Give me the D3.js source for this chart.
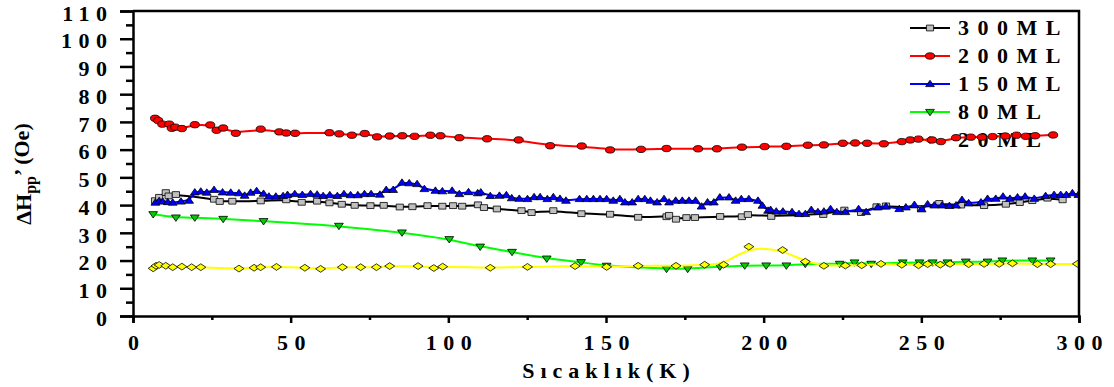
<!DOCTYPE html>
<html>
<head>
<meta charset="utf-8">
<script src="https://cdn.jsdelivr.net/npm/d3@7"></script>
<style>
  html, body { margin: 0; padding: 0; background: #fff; }
  svg { display: block; }
  svg text { font-family: "Liberation Serif", "Times New Roman", "DejaVu Serif", serif; font-weight: bold; fill: #000; }
</style>
</head>
<body>
<svg id="chart" width="1114" height="387"></svg>
<script>
// temperature (K) / linewidth (Oe) pairs
var ml300K = [7.0, 8.3, 10.4, 11.3, 13.6, 25.7, 27.5, 31.5, 40.5, 48.6, 53.5, 58.4, 62.3, 66.2, 70.3, 75.3, 79.5, 84.6, 88.6, 93.4, 98.1, 101.5, 104.4, 109.4, 111.3, 115.4, 123.2, 126.4, 133.3, 142.2, 151.3, 160.2, 169.2, 170.0, 172.2, 175.5, 178.2, 186.2, 193.1, 195.0, 202.4, 218.9, 225.6, 230.9, 235.8, 238.8, 249.9, 255.7, 262.6, 269.9, 276.8, 281.2, 285.2, 290.0, 294.8]
var ml300V = [41.6, 42.8, 44.5, 43.3, 43.8, 42.1, 41.3, 41.4, 41.5, 41.9, 41.0, 41.4, 40.8, 40.3, 39.9, 39.8, 39.9, 39.3, 39.4, 39.8, 39.6, 39.8, 39.6, 40.1, 39.1, 38.6, 38.0, 37.3, 38.0, 36.9, 36.7, 35.6, 35.8, 36.3, 34.9, 35.5, 35.5, 35.9, 35.8, 36.6, 35.9, 36.6, 38.2, 37.3, 39.4, 39.7, 38.8, 40.6, 40.0, 39.8, 40.3, 40.9, 41.6, 42.5, 41.9]

var ml200K = [7.0, 8.0, 9.3, 11.5, 12.3, 13.4, 15.5, 19.6, 24.5, 26.5, 28.6, 32.6, 40.5, 46.4, 48.6, 51.4, 62.3, 65.4, 69.4, 73.5, 77.4, 81.4, 85.4, 89.3, 94.3, 97.5, 103.5, 112.3, 122.3, 132.3, 142.3, 151.3, 161.1, 169.2, 179.2, 185.2, 193.1, 200.3, 207.2, 214.0, 219.1, 225.1, 229.0, 232.8, 238.1, 243.8, 246.5, 249.1, 253.4, 256.2, 261.0, 265.7, 269.2, 272.6, 276.6, 280.2, 283.1, 286.1, 291.8]
var ml200V = [71.3, 70.5, 69.2, 69.2, 67.7, 68.1, 67.6, 69.0, 68.9, 67.0, 67.8, 65.9, 67.4, 66.4, 66.0, 65.9, 66.1, 65.7, 65.2, 65.8, 64.6, 64.9, 65.0, 64.8, 65.2, 65.0, 64.3, 63.9, 63.5, 61.4, 61.3, 59.9, 60.1, 60.4, 60.3, 60.3, 60.9, 61.1, 61.2, 61.6, 61.7, 62.3, 62.4, 62.3, 62.1, 62.9, 63.5, 63.8, 63.5, 62.9, 64.3, 64.5, 64.5, 64.7, 64.9, 65.2, 64.8, 65.0, 65.3]

var ml150K = [7.1, 8.3, 9.4, 11.0, 12.6, 15.2, 17.8, 19.6, 21.5, 23.4, 25.7, 28.4, 31.0, 33.6, 35.4, 37.3, 39.2, 41.4, 43.1, 45.3, 47.6, 49.0, 51.3, 53.7, 56.3, 58.4, 60.3, 62.4, 64.8, 66.9, 69.0, 71.3, 73.4, 75.5, 78.3, 80.3, 82.5, 85.3, 87.6, 90.1, 92.4, 95.9, 98.1, 101.2, 103.5, 106.4, 109.3, 110.3, 113.3, 116.2, 118.4, 120.1, 122.5, 125.1, 127.2, 129.1, 131.4, 133.3, 135.4, 137.3, 141.6, 143.9, 146.0, 148.1, 150.2, 152.3, 154.4, 156.0, 158.3, 160.2, 162.3, 164.1, 166.2, 168.4, 170.0, 172.1, 174.2, 176.3, 178.4, 180.3, 182.2, 184.2, 186.1, 189.0, 191.1, 192.9, 195.3, 198.2, 199.6, 201.4, 202.2, 204.0, 206.1, 209.0, 211.2, 213.2, 215.1, 217.2, 219.1, 221.2, 223.2, 225.9, 230.1, 232.5, 236.2, 238.8, 243.0, 245.1, 247.8, 250.1, 252.0, 254.1, 256.6, 258.9, 261.0, 262.9, 265.0, 268.9, 271.0, 273.6, 275.9, 278.1, 280.5, 282.9, 285.8, 289.4, 292.1, 294.2, 296.0, 297.9, 299.8]
var ml150V = [40.9, 41.5, 41.3, 41.1, 40.9, 41.3, 41.6, 44.6, 44.9, 44.5, 45.5, 44.6, 44.5, 44.3, 43.4, 44.5, 45.1, 44.1, 43.1, 43.1, 43.3, 43.7, 44.0, 43.7, 44.0, 43.8, 43.3, 43.6, 43.3, 44.0, 43.6, 43.6, 44.0, 44.0, 43.8, 45.5, 45.5, 48.1, 47.9, 47.6, 45.8, 45.2, 45.0, 45.2, 44.0, 44.7, 44.3, 44.6, 43.3, 43.4, 43.6, 42.5, 42.3, 42.2, 42.9, 42.9, 42.2, 42.9, 42.3, 41.6, 42.2, 42.2, 42.2, 42.2, 42.2, 41.6, 42.2, 41.0, 41.0, 42.2, 42.2, 41.6, 41.0, 42.2, 41.0, 41.6, 41.6, 41.6, 41.6, 39.5, 41.0, 41.0, 42.8, 42.8, 41.6, 42.2, 42.2, 41.6, 39.8, 38.0, 38.3, 37.7, 37.7, 37.5, 36.8, 36.8, 38.3, 37.5, 37.7, 38.6, 37.5, 37.5, 38.6, 37.5, 39.2, 39.5, 38.6, 39.2, 40.1, 38.5, 40.3, 39.9, 39.9, 39.7, 39.9, 41.9, 40.7, 41.0, 42.3, 42.3, 43.1, 42.3, 42.8, 43.1, 42.3, 43.3, 43.7, 43.7, 43.7, 44.3, 43.7]

var ml80K = [6.4, 13.6, 19.6, 28.6, 41.4, 65.3, 85.3, 100.3, 110.1, 120.2, 131.2, 142.1, 150.2, 169.2, 175.9, 186.1, 194.0, 200.8, 207.2, 213.2, 224.1, 228.8, 234.1, 244.1, 249.4, 253.6, 258.3, 264.1, 271.0, 275.7, 285.2, 291.0]
var ml80V = [36.7, 35.5, 35.5, 35.0, 34.2, 32.5, 30.1, 27.7, 25.0, 23.1, 20.7, 19.4, 18.1, 17.0, 17.0, 17.8, 18.2, 18.2, 18.2, 18.8, 18.8, 19.3, 18.8, 19.3, 19.3, 19.3, 19.3, 19.6, 19.6, 20.0, 20.0, 20.0]

var ml20K = [6.4, 7.3, 8.3, 10.4, 12.6, 15.5, 18.6, 21.5, 33.6, 38.4, 40.5, 45.5, 54.5, 59.5, 66.4, 72.2, 77.2, 81.4, 90.4, 95.4, 98.2, 113.3, 125.1, 140.2, 150.2, 160.2, 172.2, 181.3, 187.3, 195.3, 206.0, 213.2, 219.1, 225.9, 231.1, 237.2, 243.8, 249.1, 252.0, 256.0, 259.1, 265.0, 269.9, 274.7, 278.9, 286.8, 291.0, 299.5]
var ml20V = [17.2, 18.1, 18.4, 18.1, 17.6, 17.8, 17.6, 17.6, 17.1, 17.4, 17.6, 17.7, 17.4, 17.0, 17.6, 17.6, 17.6, 18.0, 18.0, 17.3, 17.8, 17.4, 17.7, 18.0, 17.7, 18.1, 18.1, 18.5, 18.5, 25.0, 23.8, 19.6, 18.1, 18.2, 18.3, 18.8, 18.5, 18.3, 18.7, 18.5, 18.8, 18.7, 18.8, 18.8, 19.0, 18.7, 18.7, 18.8]

var seriesNames = ['300ML', '200ML', '150ML', '80ML', '20ML']
var xTicks = [0, 50, 100, 150, 200, 250, 300]
var yTicks = [0, 10, 20, 30, 40, 50, 60, 70, 80, 90, 100, 110]

var svg = d3.select('#chart')
var x = d3.scaleLinear().domain([0, 300]).range([133, 1079])
var y = d3.scaleLinear().domain([0, 110]).range([316, 11])

// marker paths, centred on 0,0 (the original is a little stretched sideways)
var markers = {
  square: 'M-3.6,-2.9H3.6V2.9H-3.6Z',
  circle: 'M-4.6,0A4.6,3.2 0 1,0 4.6,0A4.6,3.2 0 1,0 -4.6,0Z',
  up: 'M0,-3.8L4.4,2.6H-4.4Z',
  down: 'M0,3.8L4.4,-2.6H-4.4Z',
  diamond: 'M0,-3.4L5,0L0,3.4L-5,0Z'
}

var series = [
  {name: seriesNames[0], xs: ml300K, ys: ml300V, line: '#000000', fill: '#c0c0c0', mark: 'square'},
  {name: seriesNames[1], xs: ml200K, ys: ml200V, line: '#ff0000', fill: '#ff0000', mark: 'circle'},
  {name: seriesNames[2], xs: ml150K, ys: ml150V, line: '#0000ff', fill: '#0000ff', mark: 'up'},
  {name: seriesNames[3], xs: ml80K, ys: ml80V, line: '#00ff00', fill: '#00cc00', mark: 'down'},
  {name: seriesNames[4], xs: ml20K, ys: ml20V, line: '#ffff00', fill: '#ffff00', mark: 'diamond'}
]

svg.append('clipPath').attr('id', 'plot-clip')
  .append('rect').attr('x', x(0)).attr('y', y(110)).attr('width', x(300) - x(0)).attr('height', y(0) - y(110))

// legend goes under the data, the red curve runs over the last entry
var legend = svg.append('g').attr('class', 'legend')
series.forEach(function(s, i) {
  var ly = 28 + i*28
  var g = legend.append('g').attr('transform', 'translate(0,' + ly + ')')
  g.append('line').attr('x1', 910).attr('x2', 950).attr('y1', 0).attr('y2', 0)
    .attr('stroke', s.line).attr('stroke-width', 2)
  g.append('path').attr('d', markers[s.mark]).attr('transform', 'translate(930,0)')
    .attr('fill', s.fill).attr('stroke', '#000').attr('stroke-width', 0.8)
  g.append('text').attr('x', 958).attr('y', 7).attr('font-size', 22)
    .attr('letter-spacing', 8.5).text(s.name)
})

var line = d3.line().curve(d3.curveBasis)
  .x(function(d) { return x(d[0]) })
  .y(function(d) { return y(d[1]) })

var plot = svg.append('g').attr('clip-path', 'url(#plot-clip)')
series.forEach(function(s) {
  var pts = s.xs.map(function(k, i) { return [k, s.ys[i]] })
  var g = plot.append('g')
  g.append('path').attr('d', line(pts)).attr('fill', 'none')
    .attr('stroke', s.line).attr('stroke-width', 2)
  g.selectAll('path.mark').data(pts).enter()
    .append('path').attr('class', 'mark')
    .attr('d', markers[s.mark])
    .attr('transform', function(d) { return 'translate(' + x(d[0]) + ',' + y(d[1]) + ')' })
    .attr('fill', s.fill).attr('stroke', '#000').attr('stroke-width', 0.8)
})

// frame: top and right edges
svg.append('path')
  .attr('d', ['M', x(0), y(110), 'H', x(300), 'V', y(0)].join(' '))
  .attr('fill', 'none').attr('stroke', '#000').attr('stroke-width', 2.5)

// y axis
var yMinor = svg.append('g').attr('transform', 'translate(' + x(0) + ',0)')
  .call(d3.axisLeft(y).tickValues(d3.range(5, 110, 10)).tickSize(7).tickFormat(''))
var yAxis = svg.append('g').attr('transform', 'translate(' + x(0) + ',0)')
  .call(d3.axisLeft(y).tickValues(yTicks).tickSize(13))
yAxis.selectAll('text').attr('x', -19.5).attr('dy', '0.42em')
  .attr('font-size', 22).attr('letter-spacing', 6.5)

// x axis
var xMinor = svg.append('g').attr('transform', 'translate(0,' + y(0) + ')')
  .call(d3.axisBottom(x).tickValues(d3.range(25, 300, 50)).tickSize(4).tickFormat(''))
var xAxis = svg.append('g').attr('transform', 'translate(0,' + y(0) + ')')
  .call(d3.axisBottom(x).tickValues(xTicks).tickSize(7))
xAxis.selectAll('text').attr('y', 34).attr('dy', 0).attr('dx', 3.25)
  .attr('font-size', 22).attr('letter-spacing', 6.5)

;[yMinor, yAxis, xMinor, xAxis].forEach(function(a) {
  a.attr('font-family', null).attr('font-size', null)
  a.selectAll('.domain').attr('stroke-width', 2.5).attr('stroke', '#000')
  a.selectAll('.tick line').attr('stroke-width', 2.5).attr('stroke', '#000')
})
yMinor.select('.domain').remove()
xMinor.select('.domain').remove()

// axis titles
svg.append('text').attr('x', 606).attr('y', 378).attr('text-anchor', 'middle')
  .attr('font-size', 22).attr('letter-spacing', 6).attr('dx', 3)
  .text('Sıcaklık(K)')

var yt = svg.append('text').attr('transform', 'translate(31,174) rotate(-90)')
  .attr('text-anchor', 'middle').attr('font-size', 22)
yt.append('tspan').text('ΔH')
yt.append('tspan').attr('dy', '0.3em').attr('font-size', 16).text('pp')
yt.append('tspan').attr('dy', '-0.3em').text('’ (Oe)')
</script>
</body>
</html>
